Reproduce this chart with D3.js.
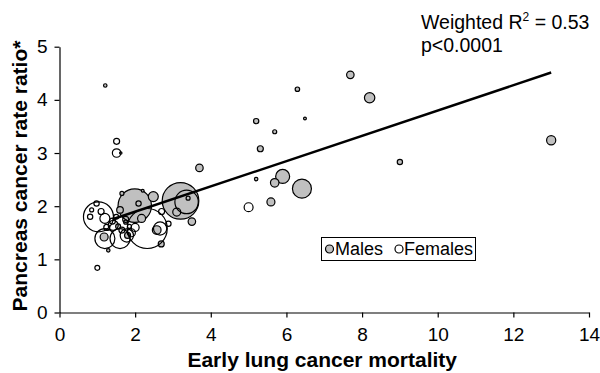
<!DOCTYPE html>
<html>
<head>
<meta charset="utf-8">
<script src="https://cdn.jsdelivr.net/npm/d3@7"></script>
<style>
  body { margin: 0; background: #fff; }
  text { font-family: Arial, "Liberation Sans", sans-serif; }
</style>
</head>
<body>
<svg id="chart" width="600" height="373"></svg>
<script>
// males: [lung mortality, pancreas rate ratio, weight]
const males = [
    [7.69, 4.47, 14], [8.2, 4.04, 27], [13.0, 3.24, 21], [9.0, 2.83, 7],
    [6.29, 4.20, 5], [6.49, 3.65, 2], [5.2, 3.6, 7], [5.69, 3.40, 4],
    [5.31, 3.08, 9], [5.2, 2.51, 3], [5.9, 2.56, 49], [5.69, 2.44, 18],
    [6.41, 2.33, 90], [5.59, 2.08, 16], [3.7, 2.72, 14], [3.5, 1.71, 14],
    [1.21, 4.27, 3], [2.69, 1.29, 9], [1.99, 2.01, 280], [3.2, 2.10, 335],
    [3.4, 2.15, 4], [3.1, 1.89, 16], [2.48, 2.18, 25], [2.09, 2.05, 7],
    [1.65, 2.24, 4], [1.6, 1.93, 11], [1.18, 1.42, 16], [2.57, 1.55, 19],
    [2.17, 1.77, 16], [1.29, 1.17, 3], [1.8, 1.45, 9], [2.2, 2.29, 2],
    [1.55, 1.62, 6], [1.75, 1.7, 4]
];
// females
const females = [
    [5.0, 1.98, 20], [1.51, 3.22, 9], [1.51, 3.0, 18], [1.0, 0.84, 6],
    [1.03, 1.8, 225], [2.32, 1.58, 400], [3.36, 2.08, 137], [1.2, 1.39, 100],
    [1.6, 1.39, 100], [2.66, 1.58, 44], [0.98, 2.05, 7], [0.81, 1.8, 7],
    [0.85, 1.93, 4], [2.88, 1.67, 7], [1.78, 1.45, 44], [1.42, 1.64, 25],
    [1.2, 1.77, 25], [1.75, 1.75, 9], [1.4, 1.72, 9], [2.0, 1.6, 16],
    [1.9, 1.5, 16], [2.7, 1.9, 9], [1.25, 1.6, 9], [1.1, 1.9, 9],
    [1.62, 3.0, 1.5], [1.5, 1.8, 6], [1.65, 1.55, 9], [1.85, 1.62, 4]
];
const xTicks = [0, 2, 4, 6, 8, 10, 12, 14];
const yTicks = [0, 1, 2, 3, 4, 5];
// weighted regression line: intercept, slope, x range
const fit = { a: 1.42, b: 0.238, from: 1.4, to: 13 };

const svg = d3.select('#chart');
const margin = { left: 59.5, right: 11, top: 46.7, bottom: 60.5 };
const W = 600 - margin.left - margin.right;
const H = 373 - margin.top - margin.bottom;

const x = d3.scaleLinear().domain([0, 14]).range([0, W]);
const y = d3.scaleLinear().domain([0, 5]).range([H, 0]);
const r = d3.scaleSqrt().domain([0, 400]).range([0, 20]);

const g = svg.append('g')
    .attr('transform', `translate(${margin.left},${margin.top})`);

//坐标轴
const xAxis = g.append('g')
    .attr('transform', `translate(0,${H})`)
    .call(d3.axisBottom(x).tickValues(xTicks).tickFormat(d3.format('d')).tickSize(5).tickSizeOuter(0));
const yAxis = g.append('g')
    .call(d3.axisLeft(y).tickValues(yTicks).tickFormat(d3.format('d')).tickSize(5).tickSizeOuter(0));

[xAxis, yAxis].forEach(a => {
    a.select('.domain').attr('stroke', '#000').attr('stroke-width', 1.2);
    a.selectAll('.tick line').attr('stroke', '#000').attr('stroke-width', 1.2);
    a.selectAll('.tick text')
        .attr('fill', '#000')
        .style('font-size', '19px');
});
xAxis.selectAll('.tick text').attr('y', 15);
yAxis.selectAll('.tick text').attr('x', -12);

//气泡
g.append('g').selectAll('circle.male')
    .data(males)
    .join('circle')
    .attr('class', 'male')
    .attr('cx', d => x(d[0]))
    .attr('cy', d => y(d[1]))
    .attr('r', d => r(d[2]))
    .attr('fill', '#c0c0c0')
    .attr('stroke', '#000')
    .attr('stroke-width', 1.2);

g.append('g').selectAll('circle.female')
    .data(females)
    .join('circle')
    .attr('class', 'female')
    .attr('cx', d => x(d[0]))
    .attr('cy', d => y(d[1]))
    .attr('r', d => r(d[2]))
    .attr('fill', 'none')
    .attr('stroke', '#000')
    .attr('stroke-width', 1.2);

//回归线
g.append('path')
    .attr('d', d3.line()([
        [x(fit.from), y(fit.a + fit.b * fit.from)],
        [x(fit.to), y(fit.a + fit.b * fit.to)]
    ]))
    .attr('stroke', '#000')
    .attr('stroke-width', 2.5)
    .attr('fill', 'none');

//轴标题
svg.append('text')
    .attr('x', margin.left + W / 2 - 2)
    .attr('y', 367)
    .attr('text-anchor', 'middle')
    .style('font-size', '21px')
    .style('font-weight', 'bold')
    .text('Early lung cancer mortality');

svg.append('text')
    .attr('transform', `translate(27,${176}) rotate(-90)`)
    .attr('text-anchor', 'middle')
    .style('font-size', '21px')
    .style('font-weight', 'bold')
    .text('Pancreas cancer rate ratio*');

//注释
const note = svg.append('text')
    .attr('x', 421)
    .attr('y', 29)
    .style('font-size', '19.5px');
note.append('tspan').text('Weighted R');
note.append('tspan').attr('dy', -8).style('font-size', '12px').text('2');
note.append('tspan').attr('dy', 8).text(' = 0.53');
svg.append('text')
    .attr('x', 421)
    .attr('y', 52)
    .style('font-size', '19.5px')
    .text('p<0.0001');

//图例
const legend = svg.append('g').attr('transform', 'translate(321.5,237.5)');
legend.append('rect')
    .attr('width', 154)
    .attr('height', 23)
    .attr('fill', '#fff')
    .attr('stroke', '#000')
    .attr('stroke-width', 1);
const items = [
    { label: 'Males', fill: '#c0c0c0', cx: 8, tx: 13.5 },
    { label: 'Females', fill: '#fff', cx: 77.5, tx: 82.5 }
];
items.forEach(it => {
    legend.append('circle')
        .attr('cx', it.cx).attr('cy', 11.5).attr('r', 4)
        .attr('fill', it.fill).attr('stroke', '#000').attr('stroke-width', 1.2);
    legend.append('text')
        .attr('x', it.tx).attr('y', 17.5)
        .style('font-size', '18px')
        .text(it.label);
});
</script>
</body>
</html>
